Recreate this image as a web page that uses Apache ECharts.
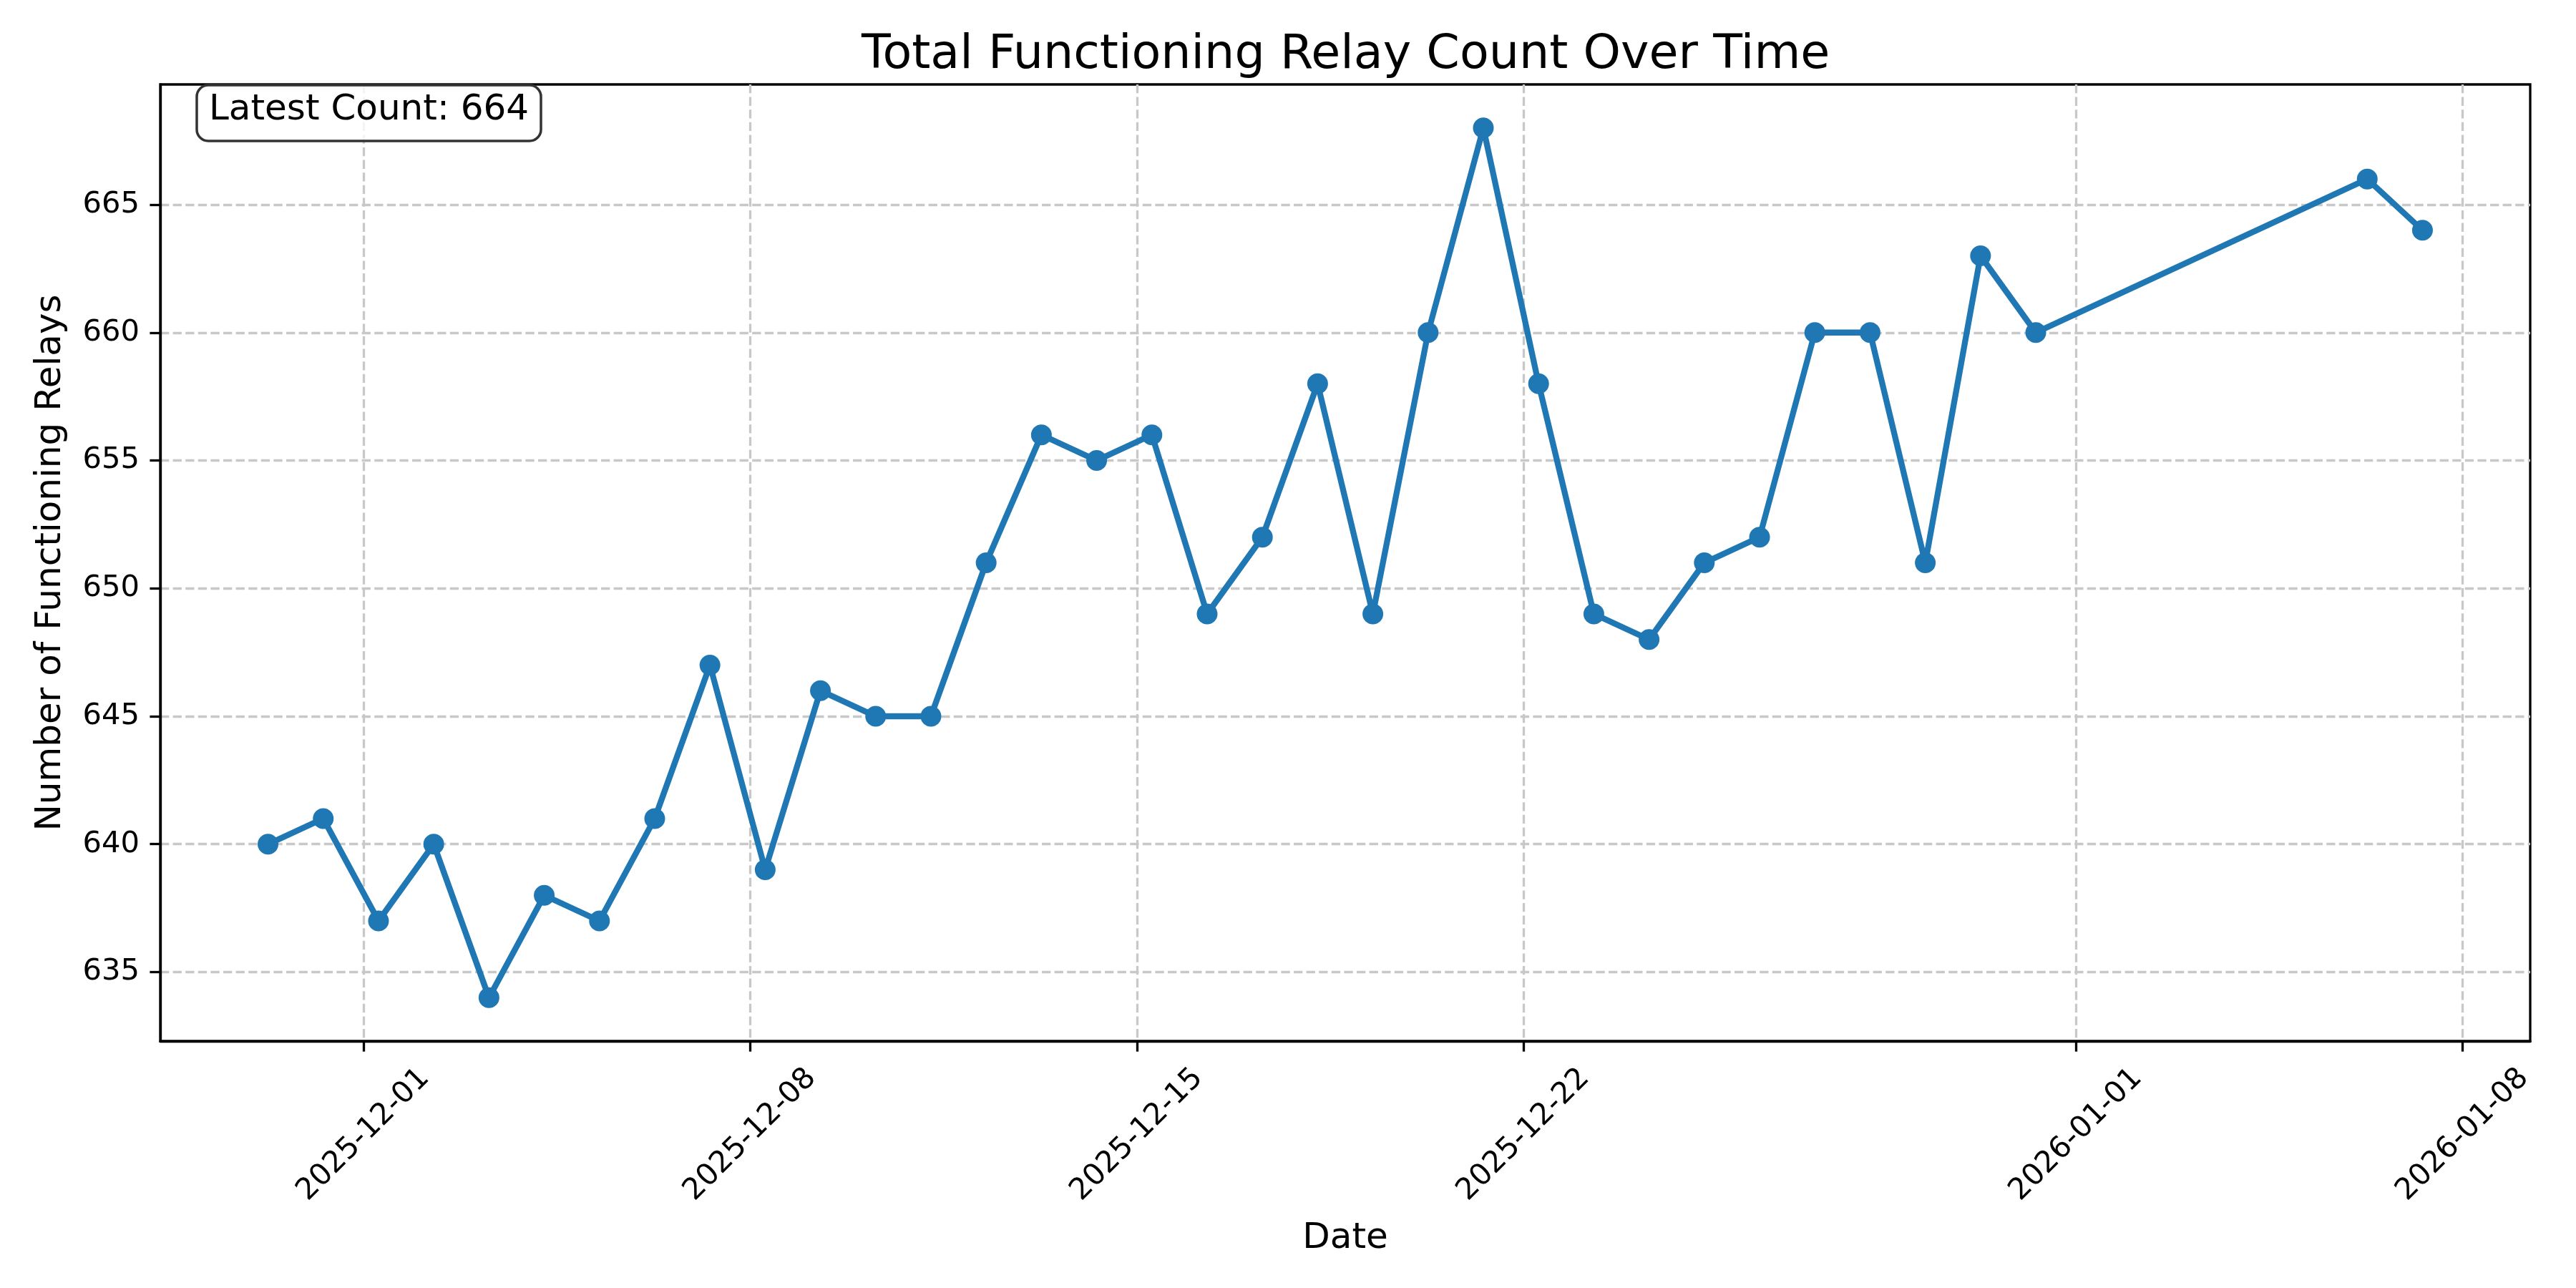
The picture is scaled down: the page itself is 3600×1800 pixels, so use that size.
<!DOCTYPE html>
<html>
<head>
<meta charset="utf-8">
<title>Total Functioning Relay Count Over Time</title>
<script src="https://cdn.jsdelivr.net/npm/echarts@6/dist/echarts.min.js"></script>
<style>
  html, body { margin: 0; padding: 0; background: #fff; }
  #container { width: 3600px; height: 1800px; }
</style>
</head>
<body>
<div id="container"></div>
<script>
// one reading per day, taken around 06:30
var dates = [
    '2025-11-29', '2025-11-30', '2025-12-01', '2025-12-02', '2025-12-03',
    '2025-12-04', '2025-12-05', '2025-12-06', '2025-12-07', '2025-12-08',
    '2025-12-09', '2025-12-10', '2025-12-11', '2025-12-12', '2025-12-13',
    '2025-12-14', '2025-12-15', '2025-12-16', '2025-12-17', '2025-12-18',
    '2025-12-19', '2025-12-20', '2025-12-21', '2025-12-22', '2025-12-23',
    '2025-12-24', '2025-12-25', '2025-12-26', '2025-12-27', '2025-12-28',
    '2025-12-29', '2025-12-30', '2025-12-31', '2026-01-06', '2026-01-07'
];
var counts = [
    640, 641, 637, 640, 634,
    638, 637, 641, 647, 639,
    646, 645, 645, 651, 656,
    655, 656, 649, 652, 658,
    649, 660, 668, 658, 649,
    648, 651, 652, 660, 660,
    651, 663, 660, 666, 664
];
var readingHour = 6, readingMinute = 30;
var xTickDates = ['2025-12-01', '2025-12-08', '2025-12-15', '2025-12-22', '2026-01-01', '2026-01-08'];
var yTicks = [635, 640, 645, 650, 655, 660, 665];

var FONT = 'DejaVu Sans';

function toMs(s, hour, minute) {
    var p = s.split('-');
    return new Date(+p[0], +p[1] - 1, +p[2], hour || 0, minute || 0).getTime();
}
function pad2(n) { return (n < 10 ? '0' : '') + n; }
function fmtDate(v) {
    var d = new Date(v);
    return d.getFullYear() + '-' + pad2(d.getMonth() + 1) + '-' + pad2(d.getDate());
}

var seriesData = dates.map(function (d, i) { return [toMs(d, readingHour, readingMinute), counts[i]]; });
var xTicks = xTickDates.map(function (d) { return toMs(d); });

// 5% margins like matplotlib autoscale
var t0 = seriesData[0][0], t1 = seriesData[seriesData.length - 1][0];
var xPad = (t1 - t0) * 0.05;
var cMin = Math.min.apply(null, counts), cMax = Math.max.apply(null, counts);
var yPad = (cMax - cMin) * 0.05;

var dom = document.getElementById('container');
var myChart = echarts.init(dom, null, { renderer: 'canvas' });

var option = {
    animation: false,
    backgroundColor: '#fff',
    textStyle: { fontFamily: FONT },
    title: [
        {
            text: 'Total Functioning Relay Count Over Time',
            left: 1204,
            top: 38,
            padding: 0,
            textStyle: { fontFamily: FONT, fontSize: 66.7, fontWeight: 'normal', color: '#000', lineHeight: 80 }
        },
        {
            text: 'Latest Count: ' + counts[counts.length - 1],
            left: 275,
            top: 119,
            padding: [7, 17, 15, 17],
            borderColor: '#333',
            borderWidth: 3.5,
            borderRadius: 16,
            backgroundColor: 'rgba(255,255,255,0.8)',
            textStyle: { fontFamily: FONT, fontSize: 50, fontWeight: 'normal', color: '#000', lineHeight: 56 }
        }
    ],
    grid: {
        left: 224,
        right: 64,
        top: 118,
        bottom: 345,
        show: true,
        borderColor: '#000',
        borderWidth: 3.3,
        backgroundColor: 'transparent'
    },
    xAxis: {
        type: 'value',
        scale: true,
        min: t0 - xPad,
        max: t1 + xPad,
        name: 'Date',
        nameLocation: 'middle',
        nameGap: 251,
        nameMoveOverlap: false,
        nameTextStyle: { fontFamily: FONT, fontSize: 50, color: '#000', verticalAlign: 'top' },
        axisLine: { show: true, onZero: false, lineStyle: { color: '#000', width: 3.3 } },
        axisTick: { show: true, length: 14.6, lineStyle: { color: '#000', width: 3.3 }, customValues: xTicks },
        axisLabel: {
            customValues: xTicks,
            rotate: 45,
            align: 'center',
            verticalAlign: 'middle',
            margin: 131,
            fontFamily: FONT,
            fontSize: 41.7,
            color: '#000',
            formatter: function (v) { return fmtDate(v); }
        },
        splitLine: { show: true, lineStyle: { color: '#c8c8c8', width: 3.3, type: [12.3, 5.3] } }
    },
    yAxis: {
        type: 'value',
        scale: true,
        min: cMin - yPad,
        max: cMax + yPad,
        name: 'Number of Functioning Relays',
        nameLocation: 'middle',
        nameRotate: 90,
        nameGap: 128,
        nameMoveOverlap: false,
        nameTextStyle: { fontFamily: FONT, fontSize: 50, color: '#000' },
        axisLine: { show: true, onZero: false, lineStyle: { color: '#000', width: 3.3 } },
        axisTick: { show: true, length: 14.6, lineStyle: { color: '#000', width: 3.3 }, customValues: yTicks },
        axisLabel: {
            customValues: yTicks,
            margin: 29,
            fontFamily: FONT,
            fontSize: 41.7,
            color: '#000'
        },
        splitLine: { show: true, lineStyle: { color: '#c8c8c8', width: 3.3, type: [12.3, 5.3] } }
    },
    series: [
        {
            type: 'line',
            data: seriesData,
            symbol: 'circle',
            symbolSize: 29,
            showAllSymbol: true,
            lineStyle: { color: '#1f77b4', width: 8.3 },
            itemStyle: { color: '#1f77b4' },
            emphasis: { disabled: true }
        }
    ]
};

if (option && typeof option === 'object') {
    myChart.setOption(option);
}

window.addEventListener('resize', myChart.resize);
</script>
</body>
</html>
